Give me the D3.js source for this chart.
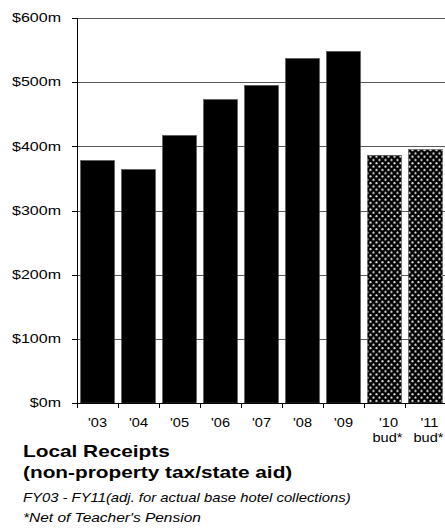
<!DOCTYPE html>
<html>
<head>
<meta charset="utf-8">
<script src="https://cdn.jsdelivr.net/npm/d3@7"></script>
<style>
  html, body { margin: 0; padding: 0; background: #fff; }
  svg { display: block; }
  text { font-family: "Liberation Sans", Arial, sans-serif; fill: #000; }
</style>
</head>
<body>
<svg id="chart" width="445" height="529"></svg>
<script>
// Fiscal years and local receipts ($ millions)
const years = ["'03", "'04", "'05", "'06", "'07", "'08", "'09", "'10", "'11"];
const yearNotes = ["", "", "", "", "", "", "", "bud*", "bud*"];
const receipts = [378, 364, 417, 473, 495, 537, 548, 386, 395];
const budgeted = [false, false, false, false, false, false, false, true, true];
const yTicks = [0, 100, 200, 300, 400, 500, 600];

const titleLines = ["Local Receipts", "(non-property tax/state aid)"];
const subtitle = "FY03 - FY11(adj. for actual base hotel collections)";
const footnote = "*Net of Teacher's Pension";

const svg = d3.select("#chart");
const W = 445;
const plot = { left: 77, right: 446, top: 18, bottom: 403 };

const x = d3.scaleBand()
  .domain(years)
  .range([plot.left, plot.right])
  .paddingInner(0.17)
  .paddingOuter(0.085);

const y = d3.scaleLinear()
  .domain([0, 600])
  .range([plot.bottom, plot.top]);

// Dotted fill for budgeted years
const defs = svg.append("defs");
const pat = defs.append("pattern")
  .attr("id", "dots")
  .attr("patternUnits", "userSpaceOnUse")
  .attr("width", 6).attr("height", 6.6);
pat.append("rect").attr("width", 6).attr("height", 6.6).attr("fill", "#000");
pat.append("circle").attr("cx", 1.5).attr("cy", 1.6).attr("r", 1.1).attr("fill", "#e6e6e6");
pat.append("circle").attr("cx", 4.5).attr("cy", 4.9).attr("r", 1.1).attr("fill", "#e6e6e6");

// Helper: measure a string in a given style
function measure(str, style) {
  const t = svg.append("text").attr("style", style).text(str);
  const w = t.node().getComputedTextLength();
  t.remove();
  return w;
}

const axisStyle = "font-size:12px";
const xLabStyle = "font-size:12.5px";
const titleStyle = "font-size:16.5px;font-weight:bold";
const subStyle = "font-size:12.5px;font-style:italic";

// the typeface is drawn horizontally widened
const sY = 49 / measure("$600m", axisStyle);
const sX = 19 / measure("'03", xLabStyle);
const sTitle = 147 / measure(titleLines[0], titleStyle);
const sSub = 328 / measure(subtitle, subStyle);
const sFoot = 178 / measure(footnote, subStyle);

function wideText(g, str, px, py, sx, style, anchor) {
  return g.append("text")
    .attr("transform", `translate(${px},${py}) scale(${sx},1)`)
    .attr("text-anchor", anchor || "start")
    .attr("style", style)
    .text(str);
}

// Gridlines
svg.append("g")
  .selectAll("line")
  .data(yTicks.filter(d => d > 0))
  .join("line")
  .attr("x1", plot.left).attr("x2", W)
  .attr("y1", d => Math.round(y(d)) + 0.5)
  .attr("y2", d => Math.round(y(d)) + 0.5)
  .attr("stroke", "#5a5a5a")
  .attr("stroke-width", 1);

// Bars
svg.append("g")
  .selectAll("rect")
  .data(years.map((d, i) => ({ year: d, v: receipts[i], bud: budgeted[i] })))
  .join("rect")
  .attr("x", d => x(d.year))
  .attr("width", x.bandwidth())
  .attr("y", d => y(d.v))
  .attr("height", d => y(0) - y(d.v))
  .attr("fill", d => d.bud ? "url(#dots)" : "#000")
  .attr("stroke", "#555")
  .attr("stroke-width", 0.5);

// Y axis line and ticks
const axG = svg.append("g");
axG.append("line")
  .attr("x1", plot.left + 0.5).attr("x2", plot.left + 0.5)
  .attr("y1", plot.top).attr("y2", plot.bottom)
  .attr("stroke", "#000");
axG.selectAll("line.yt")
  .data(yTicks)
  .join("line")
  .attr("class", "yt")
  .attr("x1", plot.left - 5).attr("x2", plot.left)
  .attr("y1", d => Math.round(y(d)) + 0.5)
  .attr("y2", d => Math.round(y(d)) + 0.5)
  .attr("stroke", "#000");
yTicks.forEach(d => {
  wideText(axG, "$" + d + "m", 61, y(d) + 4.3, sY, axisStyle, "end");
});

// X axis line and ticks at category boundaries
axG.append("line")
  .attr("x1", plot.left).attr("x2", W)
  .attr("y1", plot.bottom + 0.5).attr("y2", plot.bottom + 0.5)
  .attr("stroke", "#000");
const bounds = years.map(d => x(d) - x.step() * x.paddingInner() / 2);
axG.selectAll("line.xt")
  .data(bounds)
  .join("line")
  .attr("class", "xt")
  .attr("x1", d => Math.round(d) + 0.5).attr("x2", d => Math.round(d) + 0.5)
  .attr("y1", plot.bottom).attr("y2", plot.bottom + 5)
  .attr("stroke", "#000");

years.forEach((d, i) => {
  const cx = x(d) + x.bandwidth() / 2 + (yearNotes[i] ? 4 : 0);
  wideText(axG, d, cx, 427, sX, xLabStyle, "middle");
  if (yearNotes[i]) wideText(axG, yearNotes[i], cx - 1, 442, sX, xLabStyle, "middle");
});

// Titles
wideText(svg, titleLines[0], 23, 457, sTitle, titleStyle);
wideText(svg, titleLines[1], 23, 477.5, sTitle, titleStyle);
wideText(svg, subtitle, 23, 501.5, sSub, subStyle);
wideText(svg, footnote, 23, 521.5, sFoot, subStyle);
</script>
</body>
</html>
